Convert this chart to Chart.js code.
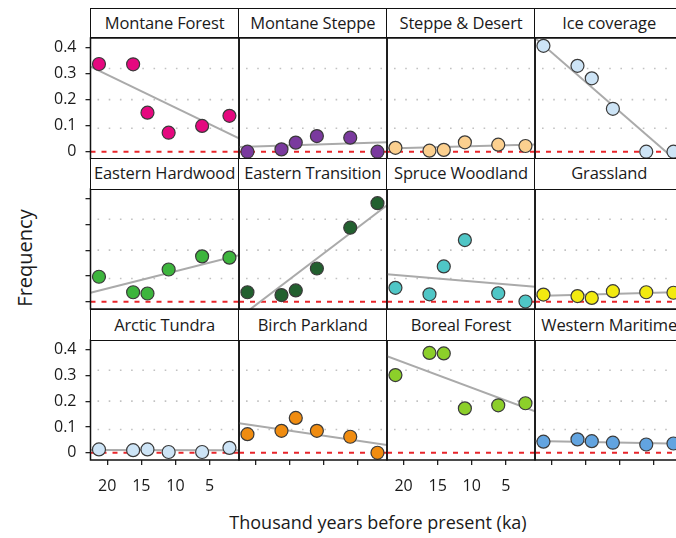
<!DOCTYPE html>
<html>
<head>
<meta charset="utf-8">
<script src="https://cdn.jsdelivr.net/npm/chart.js@4.4.1/dist/chart.umd.min.js"></script>
<style>
html, body { margin: 0; padding: 0; background: #fff; overflow: hidden; width: 676px; height: 538px; }
#wrap { position: relative; width: 676px; height: 538px; font-family: "Open Sans", sans-serif; color: #1a1a1a; overflow: hidden; }
canvas { position: absolute; }
.strip { position: absolute; box-sizing: border-box; border: 1.5px solid #111; background: #fff;
  text-align: center; font-size: 16.5px; letter-spacing: -0.15px; white-space: nowrap; overflow: hidden; z-index: 2; }
.ytitle { position: absolute; left: 24px; top: 258px; transform: translate(-50%, -50%) rotate(-90deg); font-size: 20px; white-space: nowrap; }
.xtitle { position: absolute; left: 378px; top: 522px; transform: translate(-50%, -50%); font-size: 18px; white-space: nowrap; }
</style>
</head>
<body>
<div id="wrap">
  <div class="ytitle">Frequency</div>
  <div class="xtitle">Thousand years before present (ka)</div>
</div>
<script>
// --- data ---
const biomes = ['Montane Forest', 'Montane Steppe', 'Steppe & Desert', 'Ice coverage',
  'Eastern Hardwood', 'Eastern Transition', 'Spruce Woodland', 'Grassland',
  'Arctic Tundra', 'Birch Parkland', 'Boreal Forest', 'Western Maritime'];
const ka = [21.2, 16.2, 14.1, 11.0, 6.1, 2.1];

const montaneForest     = [0.337, 0.336, 0.150, 0.073, 0.099, 0.138];
const montaneSteppe     = [0.000, 0.009, 0.035, 0.060, 0.054, 0.000];
const steppeDesert      = [0.015, 0.004, 0.007, 0.036, 0.027, 0.022];
const iceCoverage       = [0.407, 0.330, 0.282, 0.165, 0.000, 0.000];
const easternHardwood   = [0.097, 0.037, 0.032, 0.125, 0.176, 0.171];
const easternTransition = [0.037, 0.026, 0.044, 0.129, 0.287, 0.382];
const spruceWoodland    = [0.054, 0.029, 0.137, 0.239, 0.033, 0.001];
const grassland         = [0.028, 0.022, 0.015, 0.041, 0.037, 0.035];
const arcticTundra      = [0.013, 0.010, 0.013, 0.003, 0.003, 0.019];
const birchParkland     = [0.072, 0.085, 0.135, 0.085, 0.062, 0.000];
const borealForest      = [0.301, 0.387, 0.385, 0.172, 0.184, 0.192];
const westernMaritime   = [0.043, 0.052, 0.045, 0.039, 0.032, 0.036];

// fitted trend line, value at the old end (left) and young end (right) of the axis
const trendOld   = [0.327, 0.018, 0.012, 0.437, 0.035, -0.062, 0.107, 0.022, 0.011, 0.114, 0.374, 0.046];
const trendYoung = [0.051, 0.036, 0.028, -0.057, 0.180, 0.374, 0.058, 0.038, 0.010, 0.030, 0.161, 0.035];

const xTicks = [20, 15, 10, 5];
const yTicks = [0, 0.1, 0.2, 0.3, 0.4];
const gridLevels = [0.09, 0.2, 0.32];

const series = [montaneForest, montaneSteppe, steppeDesert, iceCoverage,
  easternHardwood, easternTransition, spruceWoodland, grassland,
  arcticTundra, birchParkland, borealForest, westernMaritime];

const colors = ['#e5087f', '#7a3a9e', '#fcd08f', '#cde4f6',
  '#3db53d', '#22602f', '#4fc6c6', '#f2ea10',
  '#cde4f6', '#f08c10', '#8ccf2a', '#62a4e0'];

// --- layout ---
const X_MIN = 0.7, X_MAX = 22.44, Y_MIN = -0.028, Y_MAX = 0.437;
const colLeft = [90.5, 238.7, 386.9, 535.1];
const colW = 148.2;
const stripTop = [8.3, 159, 309.3];
const panelTop = [37.7, 189.3, 340];
const panelH = [121.3, 120, 120];
const PAD = 4, XAXIS_H = 40;
const FONT = '"Open Sans", sans-serif';

const wrap = document.getElementById('wrap');

const panelDeco = {
  id: 'panelDeco',
  beforeDatasetsDraw(chart) {
    const { ctx, chartArea: a, scales: { y } } = chart;
    ctx.save();
    ctx.strokeStyle = '#c2c2c2';
    ctx.lineWidth = 1.6;
    ctx.setLineDash([1.6, 9.6]);
    gridLevels.forEach(v => {
      const py = y.getPixelForValue(v);
      ctx.beginPath();
      ctx.moveTo(a.left + 7, py);
      ctx.lineTo(a.right - 4, py);
      ctx.stroke();
    });
    ctx.restore();
  },
  afterDraw(chart) {
    const { ctx, chartArea: a } = chart;
    ctx.save();
    ctx.strokeStyle = '#111';
    ctx.lineWidth = 1.5;
    ctx.strokeRect(a.left, a.top, a.right - a.left, a.bottom - a.top);
    ctx.restore();
  }
};

function makePanel(i) {
  const row = Math.floor(i / 4), col = i % 4;
  const L = colLeft[col], T = panelTop[row], H = panelH[row];
  const leftCol = col === 0, bottomRow = row === 2;

  // strip
  const s = document.createElement('div');
  s.className = 'strip';
  s.textContent = biomes[i];
  const sh = T - stripTop[row];
  s.style.left = (L - 0.75) + 'px';
  s.style.top = (stripTop[row] - 0.75) + 'px';
  s.style.width = (colW + 1.5) + 'px';
  s.style.height = (sh + 1.5) + 'px';
  s.style.lineHeight = (sh - 1.5) + 'px';
  wrap.appendChild(s);

  // canvas
  const cv = document.createElement('canvas');
  const cLeft = leftCol ? 0 : L - PAD;
  const cTop = T - PAD;
  const cW = (L + colW + PAD) - cLeft;
  const cH = PAD + H + (bottomRow ? XAXIS_H : PAD);
  cv.width = Math.round(cW); cv.height = Math.round(cH);
  cv.style.left = cLeft + 'px'; cv.style.top = cTop + 'px';
  cv.style.width = Math.round(cW) + 'px'; cv.style.height = Math.round(cH) + 'px';
  wrap.appendChild(cv);

  const pts = ka.map((k, j) => ({ x: k, y: series[i][j] }));
  const tickGrid = { drawOnChartArea: false, drawTicks: true, tickLength: 5, color: '#222', lineWidth: 1.3 };

  new Chart(cv.getContext('2d'), {
    type: 'scatter',
    data: {
      datasets: [
        { data: pts, order: 0, pointRadius: 6.5, pointHoverRadius: 6.5,
          pointBackgroundColor: colors[i], pointBorderColor: '#3a3a3a', pointBorderWidth: 1.2 },
        { data: [{ x: X_MAX, y: trendOld[i] }, { x: X_MIN, y: trendYoung[i] }], order: 1,
          showLine: true, pointRadius: 0, borderColor: '#aaaaaa', borderWidth: 2 },
        { data: [{ x: X_MAX, y: 0 }, { x: X_MIN, y: 0 }], order: 2,
          showLine: true, pointRadius: 0, borderColor: '#e8262b', borderWidth: 2, borderDash: [5, 6] }
      ]
    },
    options: {
      responsive: false, animation: false, devicePixelRatio: 1,
      layout: { autoPadding: false,
        padding: { left: leftCol ? 0 : PAD, right: PAD, top: PAD, bottom: bottomRow ? 0 : PAD } },
      plugins: { legend: { display: false }, tooltip: { enabled: false } },
      events: [],
      scales: {
        x: {
          type: 'linear', reverse: true, min: X_MIN, max: X_MAX,
          display: bottomRow,
          afterBuildTicks: ax => { ax.ticks = xTicks.map(v => ({ value: v })); },
          afterFit: ax => {
            if (!bottomRow) return;
            ax.height = XAXIS_H; ax.paddingLeft = 0; ax.paddingRight = 0;
          },
          grid: tickGrid,
          border: { display: false },
          ticks: { autoSkip: false, maxRotation: 0, padding: 12, color: '#1a1a1a',
            font: { size: 16, family: FONT },
            callback: v => (col === 0 || col === 2) ? String(v) : '' }
        },
        y: {
          min: Y_MIN, max: Y_MAX,
          display: leftCol,
          afterBuildTicks: ax => { ax.ticks = yTicks.map(v => ({ value: v })); },
          afterFit: ax => {
            if (!leftCol) return;
            ax.width = L; ax.paddingTop = 0; ax.paddingBottom = 0;
          },
          grid: tickGrid,
          border: { display: false },
          ticks: { autoSkip: false, padding: 9, color: '#1a1a1a',
            font: { size: 16, family: FONT },
            callback: v => row === 1 ? '' : (v === 0 ? '0' : v.toFixed(1)) }
        }
      }
    },
    plugins: [panelDeco]
  });
}

biomes.forEach((b, i) => makePanel(i));
</script>
</body>
</html>
